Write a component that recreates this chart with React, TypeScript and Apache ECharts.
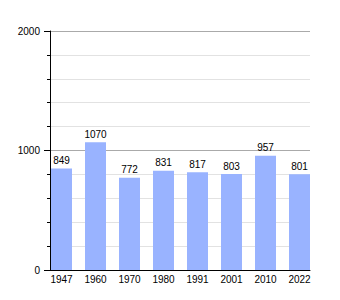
import React, { useEffect, useRef } from "react";
import * as echarts from "echarts";

const years = ["1947", "1960", "1970", "1980", "1991", "2001", "2010", "2022"];
const population = [849, 1070, 772, 831, 817, 803, 957, 801];

export default function App() {
  const ref = useRef<HTMLDivElement>(null);
  useEffect(() => {
    if (!ref.current) return;
    const chart = echarts.init(ref.current, null, { renderer: "svg" });
    const font = "'Liberation Sans', Arial, sans-serif";
    chart.setOption({
      animation: false,
      textStyle: { fontFamily: font },
      grid: [
        { left: 44.5, top: 31, width: 272, height: 239 },
        { left: 50, top: 31, width: 260, height: 239 },
      ],
      xAxis: [
        {
          type: "category",
          gridIndex: 0,
          data: years,
          axisLine: { show: false },
          axisTick: { show: false },
          axisLabel: { color: "#000", fontSize: 10, fontFamily: font, margin: 4 },
        },
        {
          type: "value",
          gridIndex: 1,
          min: 0,
          max: 1,
          axisLine: { show: true, onZero: false, lineStyle: { color: "#000", width: 1 } },
          axisTick: { show: false },
          axisLabel: { show: false },
          splitLine: { show: false },
        },
      ],
      yAxis: [
        {
          type: "value",
          gridIndex: 0,
          min: 0,
          max: 2000,
          show: false,
          splitLine: { show: false },
        },
        {
          type: "value",
          gridIndex: 1,
          min: 0,
          max: 2000,
          interval: 1000,
          axisLine: { show: true, lineStyle: { color: "#000", width: 1 } },
          axisTick: { show: true, length: 6, lineStyle: { color: "#000" } },
          minorTick: { show: true, splitNumber: 5, length: 3, lineStyle: { color: "#000" } },
          axisLabel: {
            color: "#000",
            fontSize: 10,
            fontFamily: font,
            margin: 10,
            formatter: (v: number) => String(v),
          },
          splitLine: { show: true, lineStyle: { color: "#aaaaaa", width: 1 } },
          minorSplitLine: { show: true, lineStyle: { color: "#e2e2e2", width: 1 } },
        },
      ],
      series: [
        {
          type: "bar",
          xAxisIndex: 0,
          yAxisIndex: 0,
          data: population,
          barWidth: 21,
          itemStyle: { color: "#99b3ff" },
          label: {
            show: true,
            position: "top",
            distance: 3,
            color: "#000",
            fontSize: 10,
            fontFamily: font,
          },
          z: 3,
        },
      ],
    });
    return () => chart.dispose();
  }, []);
  return (
    <div
      ref={ref}
      style={{ position: "fixed", left: 0, top: 0, width: 340, height: 300, background: "#fff" }}
    />
  );
}
